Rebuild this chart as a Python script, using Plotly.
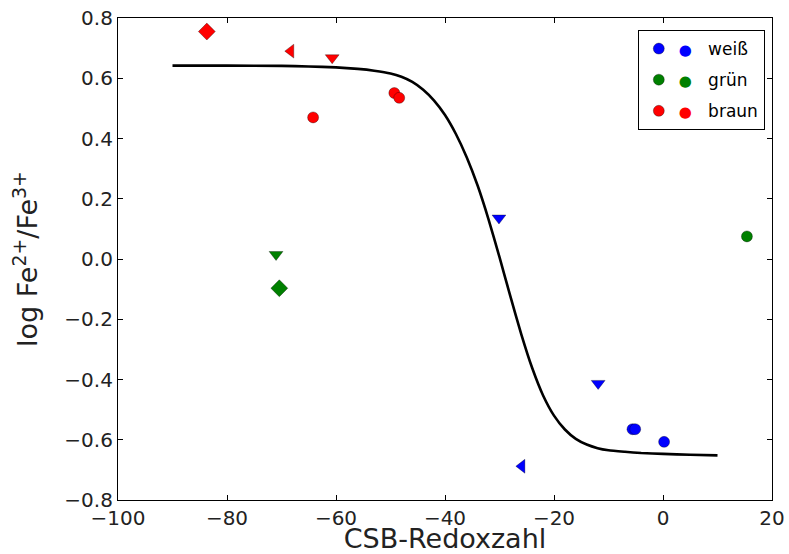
import plotly.graph_objects as go

# ---- data ----
# weiß (blue)
w_circle_x = [-5.6, -5.1, 0.2]
w_circle_y = [-0.565, -0.565, -0.607]
w_tdown_x = [-30.1, -11.9]
w_tdown_y = [0.136, -0.413]
w_tleft_x = [-25.9]
w_tleft_y = [-0.688]

# grün (green)
g_circle_x = [15.4]
g_circle_y = [0.075]
g_tdown_x = [-71.0]
g_tdown_y = [0.015]
g_diam_x = [-70.4]
g_diam_y = [-0.097]

# braun (red)
r_circle_x = [-64.2, -49.3, -48.4]
r_circle_y = [0.470, 0.551, 0.535]
r_tdown_x = [-60.7]
r_tdown_y = [0.668]
r_tleft_x = [-68.3]
r_tleft_y = [0.690]
r_diam_x = [-83.7]
r_diam_y = [0.755]

# fitted curve, read point by point
curve_x = [-90, -80, -70, -65, -60, -56, -53, -50, -48, -46, -44, -42, -40, -38,
           -36, -34, -32, -30, -28, -26, -24, -22, -20, -18, -16, -14, -12, -10,
           -7, -4, 0, 5, 10]
curve_y = [0.642, 0.642, 0.641, 0.639, 0.636, 0.631, 0.625, 0.616, 0.605, 0.588,
           0.562, 0.526, 0.478, 0.415, 0.337, 0.243, 0.131, 0.006, -0.124, -0.250,
           -0.362, -0.453, -0.520, -0.566, -0.597, -0.616, -0.628, -0.635,
           -0.640, -0.644, -0.647, -0.650, -0.652]

x_ticks = [-100, -80, -60, -40, -20, 0, 20]
y_ticks = [-0.8, -0.6, -0.4, -0.2, 0.0, 0.2, 0.4, 0.6, 0.8]

BLUE, GREEN, RED = "#0000ff", "#008000", "#ff0000"
EDGE = dict(color="rgba(0,0,0,0.55)", width=0.6)

fig = go.Figure()

fig.add_trace(go.Scatter(x=curve_x, y=curve_y, mode="lines",
                         line=dict(color="black", width=2.6, shape="spline", smoothing=0.5),
                         showlegend=False, hoverinfo="skip"))

def pts(x, y, color, symbol, size, name=None, legend=False):
    fig.add_trace(go.Scatter(
        x=x, y=y, mode="markers",
        marker=dict(color=color, symbol=symbol, size=size, line=EDGE),
        name=name if name else symbol, showlegend=legend,
        legendgroup=name if name else None))

# non-legend markers
pts(w_tdown_x, w_tdown_y, BLUE, "triangle-down", 12)
pts(w_tleft_x, w_tleft_y, BLUE, "triangle-left", 12)
pts(g_tdown_x, g_tdown_y, GREEN, "triangle-down", 12)
pts(g_diam_x, g_diam_y, GREEN, "diamond", 13)
pts(r_tdown_x, r_tdown_y, RED, "triangle-down", 12)
pts(r_tleft_x, r_tleft_y, RED, "triangle-left", 12)
pts(r_diam_x, r_diam_y, RED, "diamond", 13)

# circle series shown in legend (two dots per entry like the original)
def lname(color, label):
    return f'<span style="color:{color};font-size:15px">●</span>   {label}'

pts(w_circle_x, w_circle_y, BLUE, "circle", 11, lname(BLUE, "weiß"), True)
pts(g_circle_x, g_circle_y, GREEN, "circle", 11, lname(GREEN, "grün"), True)
pts(r_circle_x, r_circle_y, RED, "circle", 11, lname(RED, "braun"), True)

axis_common = dict(
    showline=True, linecolor="black", linewidth=1.2, mirror="allticks",
    ticks="inside", ticklen=5, tickcolor="black", tickwidth=1,
    showgrid=False, zeroline=False, automargin=False,
    tickfont=dict(family="DejaVu Sans", size=20, color="#222222"),
)

fig.update_layout(
    width=789, height=554,
    margin=dict(l=118, r=17, t=18, b=54, autoexpand=False),
    paper_bgcolor="white", plot_bgcolor="white",
    font=dict(family="DejaVu Sans", color="black"),
    xaxis=dict(range=[-100, 20], tickvals=x_ticks,
               title=dict(text="CSB-Redoxzahl", font=dict(size=27, color="#222222"), standoff=3),
               **axis_common),
    yaxis=dict(range=[-0.8, 0.8], tickvals=y_ticks, tickformat=".1f",
               title=dict(text="log Fe<sup>2+</sup>/Fe<sup>3+</sup>",
                          font=dict(size=27, color="#222222"), standoff=18),
               **axis_common),
    legend=dict(x=0.989, y=0.975, xanchor="right", yanchor="top",
                bgcolor="white", bordercolor="black", borderwidth=1,
                font=dict(family="DejaVu Sans", size=17, color="black"),
                itemwidth=30, tracegroupgap=6),
)

fig.write_html("out.html", config={"displayModeBar": False},
               post_script="document.body.style.margin='0';document.body.style.overflow='hidden';")
